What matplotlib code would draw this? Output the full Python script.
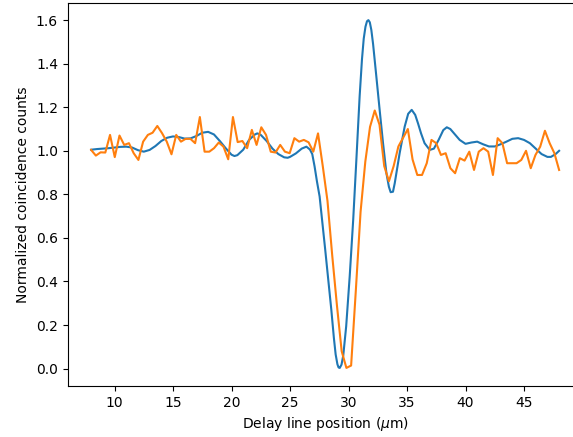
import numpy as np
import matplotlib
matplotlib.use("Agg")
import matplotlib.pyplot as plt

# Theoretical interference curve (delay in um, normalized coincidences)
theory_x = [8.0, 8.5, 9.0, 9.5, 10.0, 10.5, 11.0, 11.5, 12.0, 12.5, 13.0, 13.5,
            14.0, 14.5, 15.0, 15.5, 16.0, 16.5, 17.0, 17.5, 18.0, 18.5, 19.0,
            19.5, 20.0, 20.25, 20.5, 21.0, 21.5, 22.0, 22.2, 22.5, 23.0, 23.5,
            24.0, 24.5, 24.8, 25.0, 25.5, 26.0, 26.4, 26.7, 26.9, 27.1, 27.3,
            27.53, 27.8, 28.0, 28.24, 28.53, 28.75, 28.9, 29.05, 29.15, 29.25,
            29.4, 29.55, 29.8, 30.1, 30.4, 30.67, 30.95, 31.15, 31.3, 31.45,
            31.58, 31.7, 31.82, 31.95, 32.1, 32.38, 32.66, 32.95, 33.24, 33.45,
            33.6, 33.8, 33.95, 34.37, 34.8, 35.1, 35.4, 35.7, 35.94, 36.2, 36.5,
            36.94, 37.3, 37.7, 38.1, 38.4, 38.7, 39.1, 39.5, 40.0, 40.5, 41.0,
            41.5, 42.0, 42.5, 43.0, 43.5, 44.0, 44.5, 45.0, 45.5, 46.0, 46.5,
            47.0, 47.3, 47.7, 48.0]
theory_y = [1.005, 1.008, 1.010, 1.012, 1.015, 1.018, 1.019, 1.015, 1.003,
            0.996, 1.004, 1.022, 1.045, 1.060, 1.066, 1.063, 1.056, 1.057,
            1.068, 1.083, 1.087, 1.075, 1.045, 1.012, 0.982, 0.976, 0.980,
            1.005, 1.050, 1.075, 1.080, 1.073, 1.045, 1.010, 0.985, 0.970,
            0.968, 0.972, 0.988, 1.010, 1.019, 1.006, 0.985, 0.928, 0.860,
            0.790, 0.652, 0.550, 0.423, 0.270, 0.140, 0.065, 0.020, 0.005,
            0.003, 0.018, 0.060, 0.194, 0.423, 0.683, 0.958, 1.250, 1.420,
            1.515, 1.570, 1.595, 1.600, 1.590, 1.555, 1.490, 1.340, 1.188,
            1.035, 0.897, 0.835, 0.810, 0.812, 0.851, 0.989, 1.111, 1.170,
            1.188, 1.165, 1.126, 1.080, 1.035, 1.004, 1.010, 1.050, 1.095,
            1.108, 1.100, 1.075, 1.050, 1.032, 1.038, 1.042, 1.030, 1.020,
            1.020, 1.030, 1.042, 1.055, 1.058, 1.050, 1.035, 1.010, 0.985,
            0.972, 0.972, 0.985, 1.000]

# Measured coincidences, uniform delay scan
scan_start, scan_stop, scan_points = 8.0, 48.0, 100
measured_y = [1.004, 0.978, 0.993, 0.992, 1.073, 0.971, 1.070, 1.027, 1.035,
              0.989, 0.958, 1.042, 1.073, 1.083, 1.114, 1.081, 1.042, 0.984,
              1.073, 1.042, 1.055, 1.055, 1.035, 1.155, 0.996, 0.996, 1.012,
              1.038, 1.019, 0.961, 1.155, 1.040, 1.045, 1.012, 1.096, 1.027,
              1.108, 1.073, 0.996, 0.992, 1.027, 0.996, 0.989, 1.058, 1.042,
              1.050, 1.039, 0.996, 1.080, 0.930, 0.770, 0.520, 0.290, 0.080,
              0.003, 0.014, 0.360, 0.720, 0.950, 1.110, 1.185, 1.120, 0.930,
              0.860, 0.930, 1.020, 1.060, 1.100, 0.960, 0.889, 0.889, 0.943,
              1.050, 1.035, 0.981, 0.989, 0.920, 0.897, 0.966, 0.955, 0.996,
              0.912, 0.996, 1.012, 0.996, 0.889, 1.058, 1.035, 0.943, 0.943,
              0.943, 0.958, 1.000, 0.920, 0.981, 1.019, 1.092, 1.035, 0.989,
              0.912]
measured_x = np.linspace(scan_start, scan_stop, scan_points)

fig = plt.figure(figsize=(5.73, 4.37), dpi=100)
ax = fig.add_axes([0.1182, 0.1167, 0.8984, 0.8771])

ax.plot(theory_x, theory_y, color="tab:blue", linewidth=1.5)
ax.plot(measured_x, measured_y, color="tab:orange", linewidth=1.5)

ax.set_xlim(6, 50)
ax.set_ylim(-0.08, 1.68)
ax.set_xticks([10, 15, 20, 25, 30, 35, 40, 45])
ax.set_yticks([0.0, 0.2, 0.4, 0.6, 0.8, 1.0, 1.2, 1.4, 1.6])
ax.set_xlabel(r"Delay line position ($\mu$m)")
ax.set_ylabel("Normalized coincidence counts")

fig.savefig("out.png", dpi=100)
